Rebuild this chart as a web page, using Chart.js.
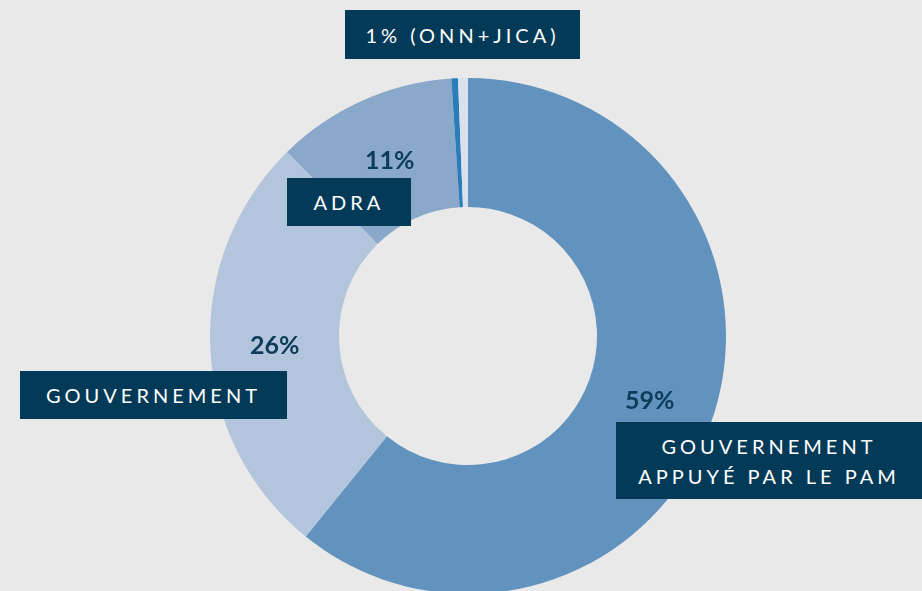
<!DOCTYPE html>
<html lang="fr">
<head>
    <meta charset="utf-8" />
    <title>Répartition</title>
    <script src="https://cdn.jsdelivr.net/npm/chart.js"></script>
    <style>
        html, body { margin: 0; padding: 0; background: #e9e9e9; overflow: hidden; }
        #wrap { position: relative; width: 922px; height: 591px; overflow: hidden; }
        #chart { position: absolute; left: 0; top: 0; }
        .box {
            position: absolute; background: #033a57; color: #fff;
            font-family: Lato, "Open Sans", sans-serif; font-size: 20px;
            letter-spacing: 4px; text-align: center; box-sizing: border-box;
            display: flex; flex-direction: column; justify-content: center; align-items: center;
            line-height: 30px;
        }
        .pct {
            position: absolute; color: #0d3c5a; font-family: Lato, "Open Sans", sans-serif;
            font-weight: bold; font-size: 25px; line-height: 1;
        }
    </style>
</head>
<body>
<div id="wrap">
    <canvas id="chart" width="922" height="600"></canvas>

    <div class="box" style="left:345px; top:10px; width:235px; height:49px;">1% (ONN+JICA)</div>
    <div class="pct" id="pctAdra" style="left:365px; top:147px;"></div>
    <div class="box" style="left:287px; top:178px; width:124px; height:48px;">ADRA</div>
    <div class="pct" id="pctGov" style="left:250px; top:332px;"></div>
    <div class="box" style="left:20px; top:371px; width:267px; height:48px;">GOUVERNEMENT</div>
    <div class="pct" id="pctPam" style="left:625px; top:387px;"></div>
    <div class="box" style="left:616px; top:422px; width:306px; height:77px;">
        <span>GOUVERNEMENT</span><span>APPUYÉ PAR LE PAM</span>
    </div>
</div>

<script>
    // slices, clockwise from 12 o'clock
    const labels = ['Gouvernement appuyé par le PAM', 'Gouvernement', 'ADRA', 'ONN', 'JICA'];
    const values = [59, 26, 11, 0.4, 0.6];
    const colors = ['#6193be', '#b3c5dd', '#8aa9ca', '#2a7db8', '#d9e1ec'];

    document.getElementById('pctPam').textContent = values[0] + '%';
    document.getElementById('pctGov').textContent = values[1] + '%';
    document.getElementById('pctAdra').textContent = values[2] + '%';

    new Chart(document.getElementById('chart'), {
        type: 'doughnut',
        data: {
            labels: labels,
            datasets: [{
                data: values,
                backgroundColor: colors,
                borderWidth: 0
            }]
        },
        options: {
            responsive: false,
            animation: false,
            cutout: '50%',
            layout: { padding: { left: 210, right: 196, top: 78, bottom: 6 } },
            plugins: {
                legend: { display: false },
                tooltip: { enabled: false }
            }
        }
    });
</script>
</body>
</html>
